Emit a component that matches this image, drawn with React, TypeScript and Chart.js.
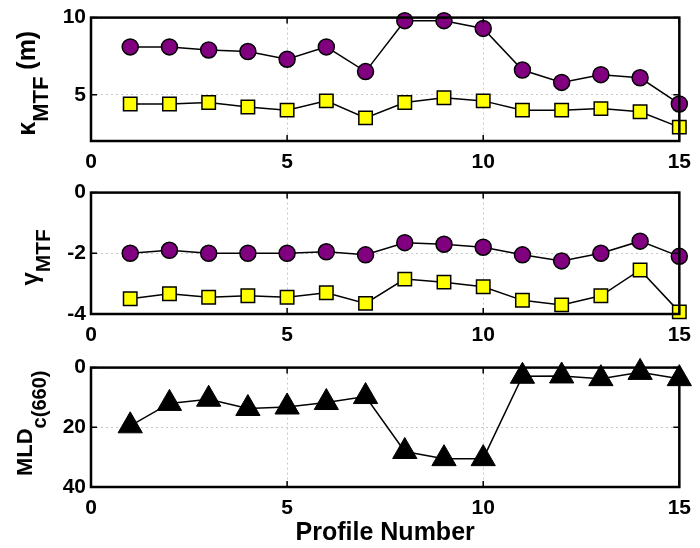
import React, { useEffect, useRef } from "react";
import { Chart, registerables } from "chart.js";

Chart.register(...registerables);

// ---------- data ----------
const profiles = [1, 2, 3, 4, 5, 6, 7, 8, 9, 10, 11, 12, 13, 14, 15];
const kappaPurple = [8.1, 8.1, 7.9, 7.8, 7.3, 8.1, 6.5, 9.8, 9.8, 9.3, 6.6, 5.8, 6.3, 6.1, 4.4];
const kappaYellow = [4.4, 4.4, 4.5, 4.2, 4.0, 4.6, 3.5, 4.5, 4.8, 4.6, 4.0, 4.0, 4.1, 3.9, 2.9];
const gammaPurple = [-2.0, -1.9, -2.0, -2.0, -2.0, -1.95, -2.05, -1.65, -1.7, -1.8, -2.05, -2.25, -2.0, -1.6, -2.1];
const gammaYellow = [-3.5, -3.33, -3.45, -3.4, -3.45, -3.3, -3.65, -2.85, -2.95, -3.1, -3.55, -3.7, -3.4, -2.55, -3.93];
const mldValues = [19.5, 12, 10.6, 13.7, 13.2, 11.7, 9.7, 28.1, 30.5, 30.5, 2.9, 2.8, 3.7, 1.6, 3.7];

const xTicks = [0, 5, 10, 15];
const kappaTicks = [5, 10];
const gammaTicks = [-4, -2, 0];
const mldTicks = [0, 20, 40];

const FONT = '"Liberation Sans", Arial, Helvetica, sans-serif';
const W = 700;
const PLOT_LEFT = 91;
const PLOT_RIGHT = 686;

const pts = (ys: number[]) => profiles.map((x, i) => ({ x, y: ys[i] }));

const purpleDs = (ys: number[]) => ({
  data: pts(ys),
  borderColor: "#000",
  borderWidth: 1.5,
  pointStyle: "circle",
  pointRadius: 8,
  pointBackgroundColor: "#800080",
  pointBorderColor: "#000",
  pointBorderWidth: 1.5,
  clip: false,
});
const yellowDs = (ys: number[]) => ({
  data: pts(ys),
  borderColor: "#000",
  borderWidth: 1.5,
  pointStyle: "rect",
  pointRadius: 9.5,
  pointBackgroundColor: "#ffff00",
  pointBorderColor: "#000",
  pointBorderWidth: 1.5,
  clip: false,
});
const triDs = (ys: number[]) => ({
  data: pts(ys),
  borderColor: "#000",
  borderWidth: 1.5,
  pointStyle: "triangle",
  pointRadius: 14,
  pointBackgroundColor: "#000",
  pointBorderColor: "#000",
  pointBorderWidth: 1,
  clip: false,
});

// frame + inward tick marks drawn on top
const framePlugin = {
  id: "frame",
  afterDatasetsDraw(chart: any) {
    const { ctx, chartArea: a } = chart;
    const xs = chart.scales.x;
    const ys = chart.scales.y;
    ctx.save();
    ctx.strokeStyle = "#000";
    ctx.lineWidth = 1.5;
    ctx.beginPath();
    for (const t of xs.ticks) {
      const px = xs.getPixelForValue(t.value);
      ctx.moveTo(px, a.bottom);
      ctx.lineTo(px, a.bottom - 6);
      ctx.moveTo(px, a.top);
      ctx.lineTo(px, a.top + 6);
    }
    for (const t of ys.ticks) {
      const py = ys.getPixelForValue(t.value);
      ctx.moveTo(a.left, py);
      ctx.lineTo(a.left + 6, py);
      ctx.moveTo(a.right, py);
      ctx.lineTo(a.right - 6, py);
    }
    ctx.stroke();
    ctx.lineWidth = 2.5;
    ctx.strokeRect(a.left, a.top, a.right - a.left, a.bottom - a.top);
    ctx.restore();
  },
};

// rotated y title with subscript
const yTitlePlugin = {
  id: "ytitle",
  afterDraw(chart: any, _args: any, opts: any) {
    if (!opts || !opts.main) return;
    const { ctx, chartArea: a } = chart;
    const cy = (a.top + a.bottom) / 2 + (opts.dy || 0);
    const mainFont = `bold ${opts.mainSize}px ${FONT}`;
    const subFont = `bold ${opts.subSize}px ${FONT}`;
    ctx.save();
    ctx.font = mainFont;
    const w1 = ctx.measureText(opts.main).width;
    const w3 = opts.suffix ? ctx.measureText(opts.suffix).width : 0;
    ctx.font = subFont;
    const w2 = ctx.measureText(opts.sub).width;
    const total = w1 + w2 + w3;
    ctx.translate(opts.x, cy);
    ctx.rotate(-Math.PI / 2);
    ctx.fillStyle = "#000";
    ctx.textBaseline = "alphabetic";
    ctx.textAlign = "left";
    let x = -total / 2;
    ctx.font = mainFont;
    ctx.fillText(opts.main, x, 0);
    x += w1;
    ctx.font = subFont;
    ctx.fillText(opts.sub, x, opts.shift);
    x += w2;
    if (opts.suffix) {
      ctx.font = mainFont;
      ctx.fillText(opts.suffix, x, 0);
    }
    ctx.restore();
  },
};

type Panel = {
  top: number;
  height: number;
  areaTop: number;
  areaBottom: number;
  yMin: number;
  yMax: number;
  reverse: boolean;
  yTicks: number[];
  datasets: any[];
  title: any;
  xTitle?: string;
};

const panels: Panel[] = [
  {
    top: 0,
    height: 175,
    areaTop: 17,
    areaBottom: 141,
    yMin: 2,
    yMax: 10,
    reverse: false,
    yTicks: kappaTicks,
    datasets: [purpleDs(kappaPurple), yellowDs(kappaYellow)],
    title: { main: "κ", sub: "MTF", suffix: " (m)", x: 35, shift: 13, mainSize: 25, subSize: 22, dy: 4 },
  },
  {
    top: 175,
    height: 175,
    areaTop: 15,
    areaBottom: 139,
    yMin: -4,
    yMax: 0,
    reverse: false,
    yTicks: gammaTicks,
    datasets: [purpleDs(gammaPurple), yellowDs(gammaYellow)],
    title: { main: "γ", sub: "MTF", x: 38, shift: 12, mainSize: 24, subSize: 21, dy: 4 },
  },
  {
    top: 350,
    height: 198,
    areaTop: 13,
    areaBottom: 137,
    yMin: 0,
    yMax: 40,
    reverse: true,
    yTicks: mldTicks,
    datasets: [triDs(mldValues)],
    title: { main: "MLD", sub: "c(660)", x: 32, shift: 14, mainSize: 22, subSize: 20, dy: -4 },
    xTitle: "Profile Number",
  },
];

function PanelChart({ p }: { p: Panel }) {
  const ref = useRef<HTMLCanvasElement | null>(null);
  useEffect(() => {
    if (!ref.current) return;
    const chart = new Chart(ref.current, {
      type: "line",
      data: { datasets: p.datasets },
      plugins: [framePlugin, yTitlePlugin],
      options: {
        animation: false,
        responsive: false,
        maintainAspectRatio: false,
        layout: { padding: { top: p.areaTop, right: W - PLOT_RIGHT, left: 0, bottom: 0 } },
        plugins: {
          legend: { display: false },
          tooltip: { enabled: false },
          ytitle: p.title,
        } as any,
        scales: {
          x: {
            type: "linear",
            min: 0,
            max: 15,
            afterBuildTicks: (s: any) => {
              s.ticks = xTicks.map((v) => ({ value: v }));
            },
            afterFit: (s: any) => {
              s.height = p.height - p.areaBottom;
            },
            grid: { color: "#c8c8c8", lineWidth: 1, drawTicks: false },
            border: { display: false, dash: [2, 3] },
            ticks: {
              color: "#000",
              padding: 9,
              maxRotation: 0,
              font: { family: FONT, size: 21, weight: "bold" },
            },
            title: p.xTitle
              ? {
                  display: true,
                  text: p.xTitle,
                  color: "#000",
                  padding: { top: 0, bottom: 0 },
                  font: { family: FONT, size: 25, weight: "bold" },
                }
              : { display: false },
          },
          y: {
            type: "linear",
            min: p.yMin,
            max: p.yMax,
            reverse: p.reverse,
            afterBuildTicks: (s: any) => {
              s.ticks = p.yTicks.map((v) => ({ value: v }));
            },
            afterFit: (s: any) => {
              s.width = PLOT_LEFT;
            },
            grid: { color: "#c8c8c8", lineWidth: 1, drawTicks: false },
            border: { display: false, dash: [2, 3] },
            ticks: {
              color: "#000",
              padding: 5,
              font: { family: FONT, size: 21, weight: "bold" },
            },
          },
        },
      } as any,
    });
    return () => chart.destroy();
  }, [p]);
  return (
    <canvas
      ref={ref}
      width={W}
      height={p.height}
      style={{ position: "absolute", left: 0, top: p.top, width: W, height: p.height, display: "block" }}
    />
  );
}

export default function App() {
  return (
    <div style={{ position: "fixed", left: 0, top: 0, width: W, height: 548, background: "#fff" }}>
      {panels.map((p, i) => (
        <PanelChart key={i} p={p} />
      ))}
    </div>
  );
}
